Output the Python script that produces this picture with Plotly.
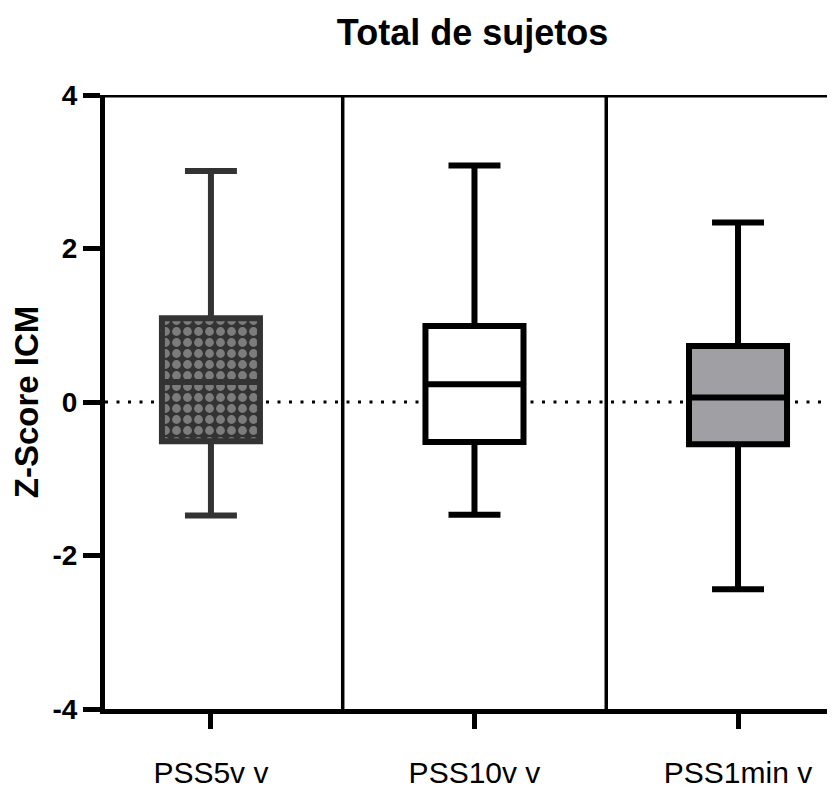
import plotly.graph_objects as go

categories = ["PSS5v v", "PSS10v v", "PSS1min v"]
lower_fence = [-1.48, -1.47, -2.44]
q1_vals = [-0.51, -0.52, -0.55]
median_vals = [0.26, 0.23, 0.06]
q3_vals = [1.09, 0.99, 0.73]
upper_fence = [3.01, 3.08, 2.34]
y_ticks = [-4, -2, 0, 2, 4]

line_colors = ["#333333", "#000000", "#000000"]
fill_colors = ["rgba(0,0,0,0)", "#ffffff", "#a0a0a4"]

FONT = "Arial, Liberation Sans, sans-serif"
BOXW = 0.372

fig = go.Figure()

# checkerboard-like fill under first box
fig.add_trace(go.Bar(
    x=[categories[0]], base=[q1_vals[0]], y=[q3_vals[0] - q1_vals[0]],
    width=BOXW,
    marker=dict(color="#333333", line=dict(width=0),
                pattern=dict(shape=".", bgcolor="#333333", fgcolor="#7c7c7c",
                             size=11, solidity=0.5, fillmode="replace")),
    showlegend=False, hoverinfo="skip",
))

for i, cat in enumerate(categories):
    fig.add_trace(go.Box(
        x=[cat], q1=[q1_vals[i]], median=[median_vals[i]], q3=[q3_vals[i]],
        lowerfence=[lower_fence[i]], upperfence=[upper_fence[i]],
        width=BOXW, whiskerwidth=0.53, boxpoints=False,
        line=dict(color=line_colors[i], width=6),
        fillcolor=fill_colors[i], showlegend=False,
    ))

shapes = [
    dict(type="line", xref="paper", yref="y", x0=0, x1=1, y0=0, y1=0,
         line=dict(color="black", width=3, dash="3px,8.5px"), layer="below"),
    dict(type="line", xref="paper", yref="y", x0=0, x1=1, y0=4, y1=4,
         line=dict(color="black", width=5)),
    dict(type="line", xref="x", yref="y", x0=0.5, x1=0.5, y0=-4, y1=4,
         line=dict(color="black", width=3.5)),
    dict(type="line", xref="x", yref="y", x0=1.5, x1=1.5, y0=-4, y1=4,
         line=dict(color="black", width=3.5)),
]

fig.update_layout(
    width=827, height=781,
    margin=dict(l=97, r=0, t=87, b=80, autoexpand=False),
    paper_bgcolor="white", plot_bgcolor="white",
    boxmode="overlay", barmode="overlay",
    shapes=shapes,
    title=dict(text="<b>Total de sujetos</b>", x=0.5617, xanchor="center",
               y=0.985, yanchor="top", yref="container",
               font=dict(family=FONT, size=36, color="black")),
    font=dict(family=FONT, color="black"),
)

fig.update_xaxes(
    type="category", categoryorder="array", categoryarray=categories,
    range=[-0.402, 2.368],
    showline=True, linecolor="black", linewidth=5,
    ticks="outside", ticklen=15, tickwidth=5, tickcolor="black",
    tickfont=dict(family=FONT, size=30, color="black"),
    ticklabelstandoff=18,
    showgrid=False, zeroline=False,
)

fig.update_yaxes(
    range=[-4, 4], tickvals=y_ticks,
    ticktext=["<b>%d</b>" % v for v in y_ticks],
    showline=True, linecolor="black", linewidth=5,
    ticks="outside", ticklen=17, tickwidth=5, tickcolor="black",
    tickfont=dict(family=FONT, size=28, color="black"),
    showgrid=False, zeroline=False,
    title=dict(text="<b>Z-Score ICM</b>", standoff=16,
               font=dict(family=FONT, size=33, color="black")),
)

fig.write_html("out.html")
